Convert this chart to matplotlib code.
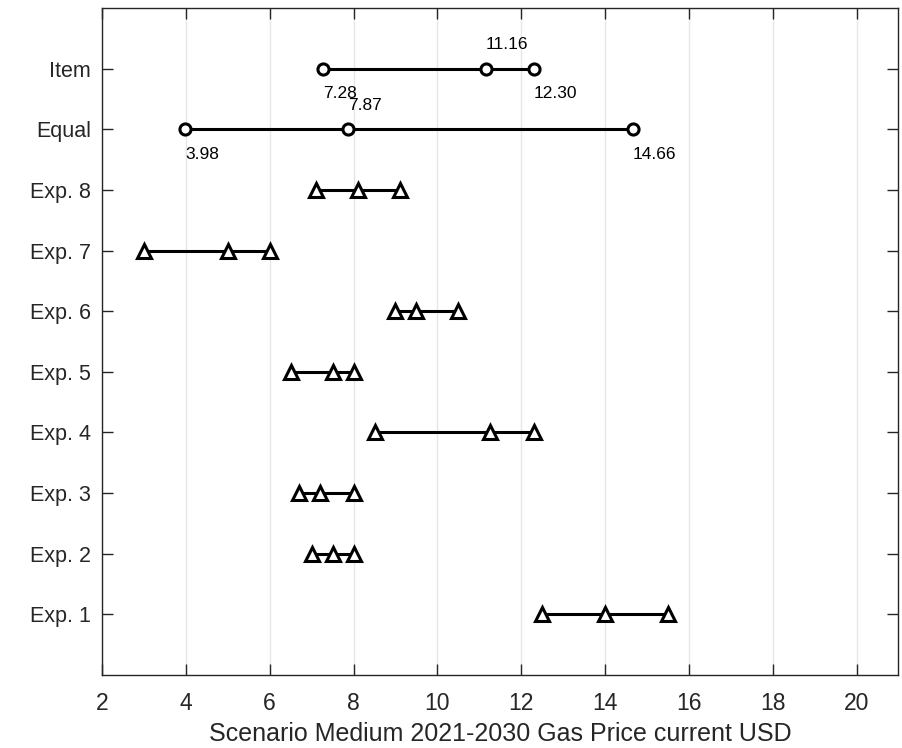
import matplotlib
matplotlib.use("Agg")
import matplotlib.pyplot as plt

# rows, bottom to top
labels = ["Exp. 1", "Exp. 2", "Exp. 3", "Exp. 4", "Exp. 5",
          "Exp. 6", "Exp. 7", "Exp. 8", "Equal", "Item"]

# experts: low / mid / high
exp_low = [12.5, 7.0, 6.7, 8.5, 6.5, 9.0, 3.0, 7.1]
exp_mid = [14.0, 7.5, 7.2, 11.25, 7.5, 9.5, 5.0, 8.1]
exp_high = [15.5, 8.0, 8.0, 12.3, 8.0, 10.5, 6.0, 9.1]

# aggregated rows
agg_names = ["Equal", "Item"]
agg_low = [3.98, 7.28]
agg_mid = [7.87, 11.16]
agg_high = [14.66, 12.30]

plt.rcParams["font.family"] = ["Liberation Sans", "DejaVu Sans"]

fig = plt.figure(figsize=(9.03, 7.48), dpi=100)
ax = fig.add_axes([0.113, 0.0976, 0.882, 0.8917])

lw = 2.2
for i in range(len(exp_low)):
    y = i + 1
    xs = [exp_low[i], exp_mid[i], exp_high[i]]
    ax.plot(xs, [y] * 3, color="black", lw=lw, marker="^", markersize=10,
            markerfacecolor="white", markeredgewidth=2.2, zorder=3)

for j, name in enumerate(agg_names):
    y = labels.index(name) + 1
    xs = [agg_low[j], agg_mid[j], agg_high[j]]
    ax.plot(xs, [y] * 3, color="black", lw=lw, marker="o", markersize=8,
            markerfacecolor="white", markeredgewidth=2.2, zorder=3)
    ax.text(agg_low[j], y - 0.41, f"{agg_low[j]:.2f}", fontsize=12.5,
            ha="left", va="center")
    ax.text(agg_mid[j], y + 0.39, f"{agg_mid[j]:.2f}", fontsize=12.5,
            ha="left", va="center")
    ax.text(agg_high[j], y - 0.41, f"{agg_high[j]:.2f}", fontsize=12.5,
            ha="left", va="center")

ax.set_xlim(2, 21)
ax.set_ylim(0, 11)
ax.set_xticks(range(2, 21, 2))
ax.set_yticks(range(1, len(labels) + 1))
ax.set_yticklabels(labels)
ax.xaxis.grid(True, color="#e6e6e6", lw=1)
ax.set_axisbelow(True)

ax.tick_params(direction="in", length=8, width=1, top=True, right=True,
               colors="#262626")
ax.tick_params(axis="y", labelsize=15.5, pad=8)
ax.tick_params(axis="x", labelsize=16.5, pad=12)
for s in ax.spines.values():
    s.set_color("#262626")
    s.set_linewidth(1)

ax.set_xlabel("Scenario Medium 2021-2030 Gas Price current USD",
              fontsize=18, color="#262626", labelpad=5)

fig.savefig("out.png", dpi=100)
